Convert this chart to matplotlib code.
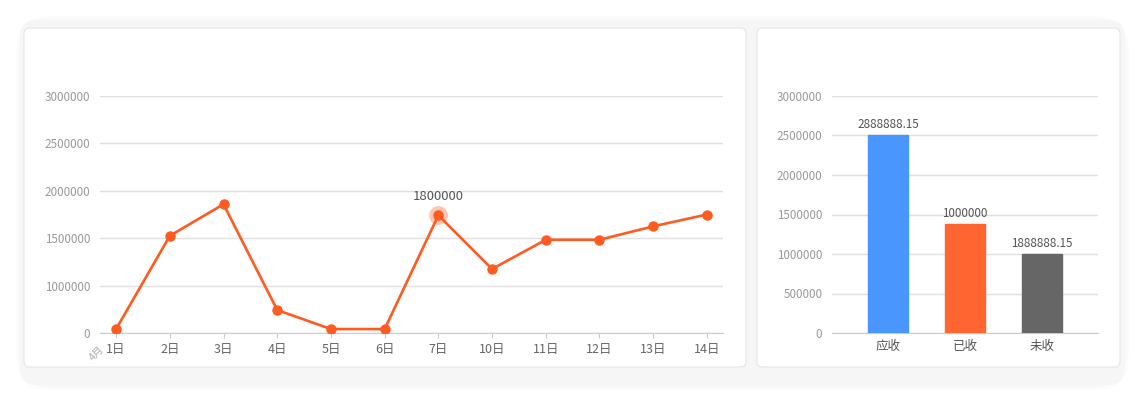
import matplotlib.pyplot as plt
from matplotlib.patches import FancyBboxPatch

plt.rcParams['font.family'] = ['Noto Sans CJK SC', 'DejaVu Sans']

# line chart data
days = ['1日', '2日', '3日', '4日', '5日', '6日', '7日', '10日', '11日', '12日', '13日', '14日']
amounts = [50000, 1230000, 1630000, 290000, 50000, 50000, 1490000, 810000, 1180000, 1180000, 1350000, 1500000]
line_ticks = [0, 600000, 1200000, 1800000, 2400000, 3000000]
line_tick_labels = ['0', '1000000', '1500000', '2000000', '2500000', '3000000']
highlight_idx = 6
highlight_label = '1800000'

# bar chart data
bar_cats = ['应收', '已收', '未收']
bar_values = [2500000, 1380000, 1000000]
bar_labels = ['2888888.15', '1000000', '1888888.15']
bar_colors = ['#4a96ff', '#ff6530', '#666666']
bar_ticks = [0, 500000, 1000000, 1500000, 2000000, 2500000, 3000000]

W, H = 1144, 405
fig = plt.figure(figsize=(W / 100, H / 100), dpi=100)
fig.patch.set_facecolor('white')

def px_box(x0, y0, x1, y1):
    # pixel box (top-left origin) -> figure fraction
    return x0 / W, 1 - y1 / H, (x1 - x0) / W, (y1 - y0) / H

# outer container with soft shadow
for i, a in enumerate([0.025, 0.025, 0.025]):
    x, y, w, h = px_box(20 - i * 2, 20 - i * 2, 1125 + i * 2, 386 + i * 2)
    fig.patches.append(FancyBboxPatch((x, y), w, h, boxstyle='round,pad=0,rounding_size=0.03',
                                      transform=fig.transFigure, facecolor='#999999', alpha=a,
                                      edgecolor='none', mutation_aspect=W / H, zorder=-10))
x, y, w, h = px_box(20, 20, 1125, 385)
fig.patches.append(FancyBboxPatch((x, y), w, h, boxstyle='round,pad=0,rounding_size=0.015',
                                  transform=fig.transFigure, facecolor='#f6f6f6',
                                  edgecolor='none', mutation_aspect=W / H, zorder=-9))
for box in [(24, 28, 746, 367), (757, 28, 1120, 367)]:
    x, y, w, h = px_box(*box)
    fig.patches.append(FancyBboxPatch((x, y), w, h, boxstyle='round,pad=0,rounding_size=0.005',
                                      transform=fig.transFigure, facecolor='white',
                                      edgecolor='#e6e6e6', linewidth=0.8,
                                      mutation_aspect=W / H, zorder=-8))

def style_axis(ax):
    ax.set_facecolor('none')
    for s in ['top', 'right', 'left']:
        ax.spines[s].set_visible(False)
    ax.spines['bottom'].set_color('#cccccc')
    ax.grid(axis='y', color='#e0e0e0', linewidth=1)
    ax.set_axisbelow(True)
    ax.tick_params(axis='y', length=0, pad=7, labelcolor='#999999', labelsize=8.4)

# line chart
x, y, w, h = px_box(100, 96, 723, 333)
ax1 = fig.add_axes([x, y, w, h])
style_axis(ax1)
xs = list(range(len(days)))
ax1.plot(xs, amounts, color='#ff5a1f', linewidth=1.9, marker='o', markersize=6.5, zorder=3)
ax1.plot([highlight_idx], [amounts[highlight_idx]], 'o', color='#ffc6b2', markersize=12.5, zorder=2)
ax1.annotate(highlight_label, (highlight_idx, amounts[highlight_idx]), xytext=(0, 9),
             textcoords='offset points', ha='center', va='bottom', fontsize=9.5, color='#555555')
ax1.set_xlim(-0.3, len(days) - 0.7)
ax1.set_ylim(0, 3000000)
ax1.set_xticks(xs)
ax1.set_xticklabels(days)
ax1.tick_params(axis='x', length=3.5, color='#cccccc', pad=4, labelcolor='#666666', labelsize=9)
ax1.set_yticks(line_ticks)
ax1.set_yticklabels(line_tick_labels)
ax1.annotate('4月', xy=(0, 0), xycoords=('data', 'axes fraction'), xytext=(-19, -20),
             textcoords='offset pixels', rotation=45, ha='center', va='center',
             fontsize=7.5, color='#aaaaaa')

# bar chart
x, y, w, h = px_box(832, 96, 1098, 333)
ax2 = fig.add_axes([x, y, w, h])
style_axis(ax2)
bx = list(range(len(bar_cats)))
bars = ax2.bar(bx, bar_values, width=0.52, color=bar_colors, zorder=3)
for b, c in zip(bars, bar_colors):
    b.set_edgecolor(c)
for i, lab in enumerate(bar_labels):
    ax2.annotate(lab, (bx[i], bar_values[i]), xytext=(0, 3), textcoords='offset points',
                 ha='center', va='bottom', fontsize=8.4, color='#555555')
ax2.set_xlim(-0.73, 2.73)
ax2.set_ylim(0, 3000000)
ax2.set_xticks(bx)
ax2.set_xticklabels(bar_cats)
ax2.tick_params(axis='x', length=0, pad=5, labelcolor='#555555', labelsize=9)
ax2.set_yticks(bar_ticks)
ax2.set_yticklabels([str(t) for t in bar_ticks])

fig.savefig('out.png', dpi=100)
